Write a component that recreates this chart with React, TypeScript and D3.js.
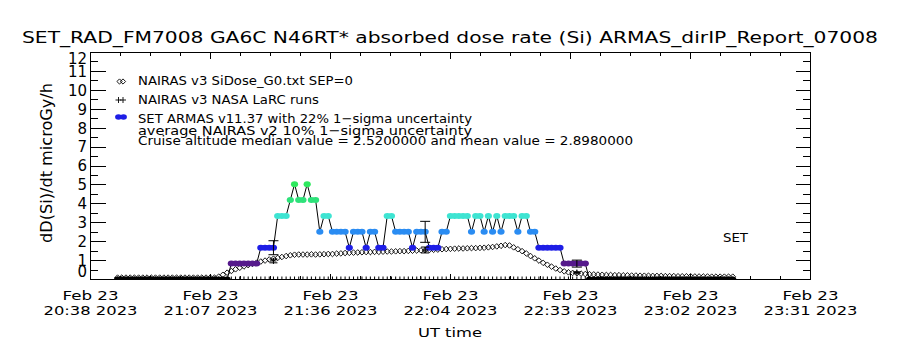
import React from "react";
import * as d3 from "d3";

// chart text
const title = "SET_RAD_FM7008  GA6C N46RT* absorbed dose rate (Si) ARMAS_dirIP_Report_07008";
const yTitle = "dD(Si)/dt microGy/h";
const xTitle = "UT time";
const legendLabels = [
  "NAIRAS v3 SiDose_G0.txt SEP=0",
  "NAIRAS v3 NASA LaRC runs",
  "SET ARMAS v11.37 with 22% 1\u2212sigma uncertainty",
  "average NAIRAS v2 10% 1\u2212sigma uncertainty",
  "Cruise altitude median value = 2.5200000 and mean value = 2.8980000",
];
const cornerTag = "SET";

// x axis: minutes after 20:38 UT, 6 labelled intervals
const spanMinutes = 173;
const xTickDates = ["Feb 23", "Feb 23", "Feb 23", "Feb 23", "Feb 23", "Feb 23", "Feb 23"];
const xTickTimes = ["20:38 2023", "21:07 2023", "21:36 2023", "22:04 2023", "22:33 2023", "23:02 2023", "23:31 2023"];
const yTickValues = [0, 1, 2, 3, 4, 5, 6, 7, 8, 9, 10, 11, 12];

// flight record: one sample per ~1 min starting 20:44:30
const sampleStart = 6.5;
const sampleStep = 1.0125;

// NAIRAS v3 SiDose G0 (diamonds)
const nairasG0 = [
  0.1, 0.1, 0.1, 0.1, 0.1, 0.1, 0.1, 0.1, 0.1, 0.1,
  0.1, 0.1, 0.1, 0.1, 0.1, 0.1, 0.1, 0.1, 0.1, 0.1,
  0.1, 0.1, 0.1, 0.1, 0.15, 0.25, 0.36, 0.45, 0.54, 0.62,
  0.69, 0.76, 0.83, 0.89, 0.95, 1.0, 1.06, 1.1, 1.14, 1.19,
  1.24, 1.28, 1.31, 1.32, 1.32, 1.32, 1.33, 1.32, 1.33, 1.34,
  1.35, 1.35, 1.37, 1.38, 1.4, 1.41, 1.42, 1.43, 1.44, 1.45,
  1.45, 1.46, 1.46, 1.47, 1.48, 1.48, 1.49, 1.5, 1.5, 1.51,
  1.52, 1.53, 1.54, 1.55, 1.56, 1.57, 1.58, 1.6, 1.61, 1.62,
  1.63, 1.64, 1.64, 1.65, 1.66, 1.66, 1.67, 1.68, 1.7, 1.72,
  1.75, 1.78, 1.82, 1.8, 1.7, 1.6, 1.5, 1.38, 1.24, 1.12,
  1.0, 0.88, 0.78, 0.68, 0.58, 0.5, 0.43, 0.38, 0.35, 0.33,
  0.31, 0.29, 0.28, 0.27, 0.26, 0.25, 0.24, 0.24, 0.23, 0.23,
  0.22, 0.22, 0.21, 0.21, 0.2, 0.2, 0.2, 0.19, 0.19, 0.19,
  0.18, 0.18, 0.18, 0.17, 0.17, 0.17, 0.17, 0.16, 0.16, 0.16,
  0.16, 0.15, 0.15, 0.15, 0.15, 0.15, 0.15,
];

// NAIRAS v3 NASA LaRC runs (plus signs)
const larc = [
  0, 0, 0, 0, 0, 0, 0, 0, 0, 0, 0, 0, 0, 0, 0, 0, 0, 0, 0, 0,
  0, 0, 0, 0, 0, 0, 0, 0, 0, 0, 0, 0, 0, 0, 0, 0, 0, 0, 0, 0,
  0, 0, 0, 0, 0, 0, 0, 0, 0, 0, 0, 0, 0, 0, 0, 0, 0, 0, 0, 0,
  0, 0, 0, 0, 0, 0, 0, 0, 0, 0, 0, 0, 0, 0, 0, 0, 0, 0, 0, 0,
  0, 0, 0, 0, 0, 0, 0, 0, 0, 0, 0, 0, 0, 0, 0, 0, 0, 0, 0, 0,
  0, 0, 0, 0, 0, 0, 0, 0, 0, 0, 0, 0, 0, 0, 0, 0, 0, 0, 0, 0,
  0, 0, 0, 0, 0, 0, 0, 0, 0, 0, 0, 0, 0, 0, 0, 0, 0, 0, 0, 0,
  0, 0, 0, 0, 0, 0, 0,
];

// SET ARMAS v11.37 dose rate (coloured ovals)
const armas = [
  0, 0, 0, 0, 0, 0, 0, 0, 0, 0, 0, 0, 0, 0, 0, 0, 0, 0, 0, 0,
  0, 0, 0, 0, 0, 0, 0,
  0.84, 0.84, 0.84, 0.84, 0.84, 0.84, 0.84,
  1.68, 1.68, 1.68, 1.68,
  3.36, 3.36, 3.36,
  4.2, 5.04, 4.2, 4.2, 5.04, 4.2, 4.2,
  2.52, 3.36, 3.36, 2.52, 2.52, 2.52, 2.52, 1.68, 2.52, 2.52,
  2.52, 1.68, 2.52, 2.52, 1.68, 1.68, 3.36, 3.36, 2.52, 2.52,
  2.52, 2.52, 1.68, 2.52, 2.52, 2.52, 1.68, 1.68, 1.68, 2.52,
  2.52, 3.36, 3.36, 3.36, 3.36, 3.36, 2.52, 3.36, 3.36, 2.52,
  3.36, 2.52, 3.36, 2.52, 3.36, 3.36, 3.36, 2.52, 3.36, 3.36,
  2.52, 2.52, 1.68, 1.68, 1.68, 1.68, 1.68, 1.68,
  0.84, 0.84, 0.84, 0.84, 0.84, 0.84,
  0, 0, 0, 0, 0, 0, 0, 0, 0, 0, 0, 0, 0, 0, 0, 0, 0, 0, 0, 0,
  0, 0, 0, 0, 0, 0, 0, 0, 0, 0, 0, 0, 0, 0, 0,
];

// error bars: sample index, average NAIRAS v2 value
const errSamples = [37, 73, 109];
const nairasV2 = [0.98, 1.56, 0.37];
const armasSigma = 0.22;
const v2Sigma = 0.1;

// ARMAS colour by dose-rate level
const levelBreaks = [0.4, 1.2, 2.1, 2.9, 3.8, 4.6];
const levelColors = ["#000000", "#561a8c", "#1e1ee6", "#2a8cf2", "#3ee4d2", "#2ee27a", "#2ee85e"];

const FONT = "DejaVu Sans";

export default function App() {
  const width = 900,
    height = 350;
  const plot = { left: 90.5, right: 810.5, top: 52.5, bottom: 279.5 };

  const x = d3.scaleLinear().domain([0, spanMinutes]).range([plot.left, plot.right]);
  const y = d3.scaleLinear().domain([0, 12]).range([plot.bottom, plot.top]);
  const color = d3.scaleThreshold<number, string>().domain(levelBreaks).range(levelColors);
  const t = (i: number) => sampleStart + i * sampleStep;

  const xMajor = xTickTimes.map((_, i) => (i * spanMinutes) / (xTickTimes.length - 1));
  const xMinor = d3.range(0, 25).map((i) => (i * spanMinutes) / 24);
  const yMinor = d3.range(0.5, 12, 1);

  const armasLine = d3
    .line<number>()
    .x((_, i) => x(t(i)))
    .y((d) => y(d))(armas);

  const diamond = (cx: number, cy: number, r: number) =>
    `M${cx},${cy - r}L${cx + r},${cy}L${cx},${cy + r}L${cx - r},${cy}Z`;
  const plus = (cx: number, cy: number, r: number) =>
    `M${cx - r},${cy}H${cx + r}M${cx},${cy - r}V${cy + r}`;

  const legendX = 138;
  const legendY = [85, 104, 123, 134.5, 145];
  const legendLen = [215, 181, 334, 334, 495];

  return (
    <svg
      width={width}
      height={height}
      style={{ position: "absolute", left: 0, top: 0, background: "#fff" }}
      fontFamily={FONT}
    >
      <defs>
        <clipPath id="plotClip">
          <rect x={plot.left} y={plot.top} width={plot.right - plot.left} height={plot.bottom - plot.top} />
        </clipPath>
      </defs>
      <rect width={width} height={height} fill="#fff" />

      {/* title */}
      <text x={450} y={43} textAnchor="middle" fontSize={16.5} textLength={856} lengthAdjust="spacingAndGlyphs">
        {title}
      </text>

      {/* data */}
      <g clipPath="url(#plotClip)">
        {nairasG0.map((d, i) => (
          <path key={"g" + i} d={diamond(x(t(i)), y(d), 2.8)} fill="none" stroke="#000" strokeWidth={0.9} />
        ))}
        {larc.map((d, i) => (
          <path key={"l" + i} d={plus(x(t(i)), y(d), 3)} fill="none" stroke="#000" strokeWidth={1} />
        ))}
        <path d={armasLine ?? ""} fill="none" stroke="#000" strokeWidth={1} />
        {armas.map((d, i) => (
          <ellipse key={"a" + i} cx={x(t(i))} cy={y(d)} rx={3.6} ry={3} fill={color(d)} />
        ))}
        {errSamples.map((s, k) => {
          const cx = x(t(s));
          const a = armas[s];
          const n = nairasV2[k];
          return (
            <g key={"e" + k} stroke="#000" strokeWidth={1} fill="none">
              <path d={`M${cx},${y(a * (1 - armasSigma))}V${y(a * (1 + armasSigma))}`} />
              <path d={`M${cx - 5},${y(a * (1 - armasSigma))}h10M${cx - 5},${y(a * (1 + armasSigma))}h10`} />
              <path d={`M${cx},${y(n * (1 - v2Sigma))}V${y(n * (1 + v2Sigma))}`} />
              <path d={`M${cx - 4},${y(n * (1 - v2Sigma))}h8M${cx - 4},${y(n * (1 + v2Sigma))}h8`} />
              <path d={plus(cx, y(n), 3)} />
            </g>
          );
        })}
      </g>

      {/* frame and ticks */}
      <g stroke="#000" strokeWidth={1} shapeRendering="crispEdges" fill="none">
        <rect x={plot.left} y={plot.top} width={plot.right - plot.left} height={plot.bottom - plot.top} />
        {yTickValues.map((v) => (
          <path key={"yt" + v} d={`M${plot.left},${y(v)}h15M${plot.right},${y(v)}h-15`} />
        ))}
        {yMinor.map((v) => (
          <path key={"ym" + v} d={`M${plot.left},${y(v)}h7.5M${plot.right},${y(v)}h-7.5`} />
        ))}
        {xMajor.map((m, i) => (
          <path key={"xt" + i} d={`M${x(m)},${plot.bottom}v-6M${x(m)},${plot.top}v6`} />
        ))}
        {xMinor.map((m, i) => (
          <path key={"xm" + i} d={`M${x(m)},${plot.bottom}v-3.5M${x(m)},${plot.top}v3.5`} />
        ))}
      </g>

      {/* y tick labels */}
      {yTickValues.map((v) => (
        <text
          key={"yl" + v}
          x={87}
          y={Math.min(Math.max(y(v), plot.top + 6), plot.bottom - 7.5)}
          dy="0.36em"
          textAnchor="end"
          fontSize={15}
        >
          {v}
        </text>
      ))}

      {/* x tick labels */}
      {xMajor.map((m, i) => (
        <g key={"xl" + i} fontSize={13} textAnchor="middle">
          <text x={x(m)} y={300} textLength={56} lengthAdjust="spacingAndGlyphs">
            {xTickDates[i]}
          </text>
          <text x={x(m)} y={315} textLength={94} lengthAdjust="spacingAndGlyphs">
            {xTickTimes[i]}
          </text>
        </g>
      ))}

      <text x={450} y={337} textAnchor="middle" fontSize={13} textLength={64} lengthAdjust="spacingAndGlyphs">
        {xTitle}
      </text>
      <text
        transform="translate(52,163) rotate(-90)"
        textAnchor="middle"
        fontSize={15}
        textLength={160}
        lengthAdjust="spacingAndGlyphs"
      >
        {yTitle}
      </text>

      {/* legend */}
      <g stroke="#000" fill="none" strokeWidth={0.9}>
        <path d={diamond(119.5, 81.5, 2.6)} />
        <path d={diamond(123, 81.5, 2.6)} />
        <path d={plus(118.5, 100, 3)} />
        <path d={plus(123, 100, 3)} />
      </g>
      <ellipse cx={118.5} cy={117} rx={3.4} ry={2.8} fill={color(1.68)} />
      <ellipse cx={123.5} cy={117} rx={3.4} ry={2.8} fill={color(1.68)} />
      {legendLabels.map((s, i) => (
        <text
          key={"lg" + i}
          x={legendX}
          y={legendY[i]}
          fontSize={13}
          textLength={legendLen[i]}
          lengthAdjust="spacingAndGlyphs"
        >
          {s}
        </text>
      ))}
      <text x={723} y={242} fontSize={13} textLength={25} lengthAdjust="spacingAndGlyphs">
        {cornerTag}
      </text>
    </svg>
  );
}
